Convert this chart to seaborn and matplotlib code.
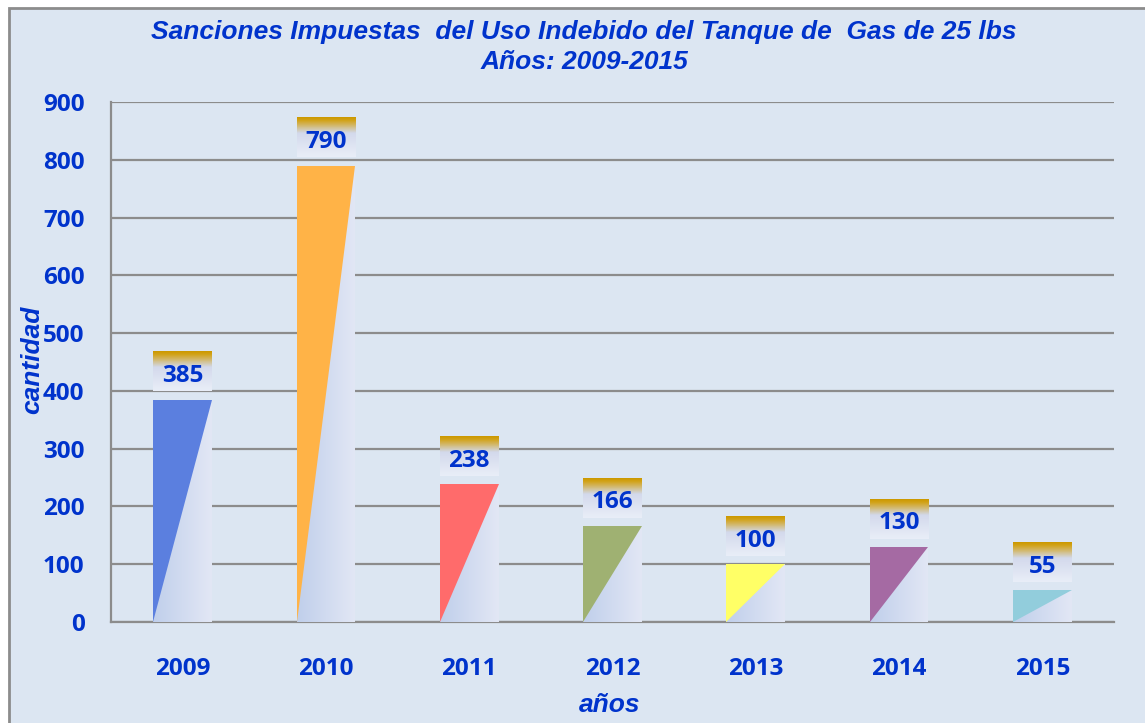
import numpy as np
import matplotlib
matplotlib.use("Agg")
import matplotlib.pyplot as plt
import seaborn as sns
from matplotlib.patches import Polygon, Rectangle
from matplotlib.colors import LinearSegmentedColormap

# data
years = ["2009", "2010", "2011", "2012", "2013", "2014", "2015"]
sanciones = [385, 790, 238, 166, 100, 130, 55]
bar_colors = ["#5b7fdf", "#ffb347", "#ff6b6b", "#9fb172", "#ffff66", "#a56aa3", "#92cddc"]
y_ticks = [0, 100, 200, 300, 400, 500, 600, 700, 800, 900]

title_txt = "Sanciones Impuestas  del Uso Indebido del Tanque de  Gas de 25 lbs\nAños: 2009-2015"
BLUE = "#0033cc"
GRID = "#8c8c8c"
BG = "#dce6f2"
NUM_FONT = ["Open Sans", "DejaVu Sans"]
ARIAL = ["Liberation Sans", "DejaVu Sans"]

sns.set_theme(style="white")
plt.rcParams["font.family"] = NUM_FONT

fig = plt.figure(figsize=(11.45, 7.23), dpi=100)
fig.patch.set_facecolor("white")
# outer chart area frame (clipped on right/bottom like the original)
fig.patches.append(Rectangle((9 / 1145, -0.05), 1.1, 1 - 8 / 723 + 0.05,
                             transform=fig.transFigure, facecolor=BG,
                             edgecolor=GRID, linewidth=2, zorder=-5))

ax = fig.add_axes([111 / 1145, 1 - 622 / 723, 1003 / 1145, 520 / 723])
ax.set_facecolor(BG)

sns.barplot(x=years, y=sanciones, hue=years, palette=bar_colors, legend=False,
            width=0.41, saturation=1, linewidth=0, ax=ax, zorder=3)

ax.set_xlim(-0.5, 6.5)
ax.set_ylim(0, 900)

# light gradient over the lower-right half of each bar + label box above it
light = LinearSegmentedColormap.from_list("light", ["#c0cfeb", "#e2e7f5"])
box_cmap = LinearSegmentedColormap.from_list(
    "box", [(0.0, "#cc9900"), (0.08, "#d2a31a"), (0.4, "#d3d9ec"), (1.0, "#e9eef8")])
grad_h = np.linspace(0, 1, 64).reshape(1, -1)
grad_v = np.linspace(0, 1, 64).reshape(-1, 1)

for p, val in zip(ax.patches, sanciones):
    x0, w, h = p.get_x(), p.get_width(), p.get_height()
    x1 = x0 + w
    tri = Polygon([(x0, 0), (x1, 0), (x1, h)], closed=True, transform=ax.transData)
    im = ax.imshow(grad_h, cmap=light, extent=(x0, x1, 0, h), aspect="auto",
                   origin="lower", zorder=4)
    im.set_clip_path(tri)
    # value box (row 0 = gold band, at the top)
    b0, b1 = val + 14, val + 83
    ax.imshow(grad_v, cmap=box_cmap, extent=(x0, x1 - w * 0.01, b0, b1), aspect="auto",
              origin="upper", zorder=4)
    ax.text(x0 + w / 2, val + 41, str(val), ha="center", va="center",
            fontsize=17.5, fontweight="bold", color=BLUE, family=NUM_FONT, zorder=5)

ax.set_xlim(-0.5, 6.5)
ax.set_ylim(0, 900)

# grid and axes
ax.set_yticks(y_ticks)
ax.yaxis.grid(True, color=GRID, linewidth=1.6, zorder=1)
ax.set_axisbelow(True)
for s in ["top", "right"]:
    ax.spines[s].set_visible(False)
for s in ["left", "bottom"]:
    ax.spines[s].set_color(GRID)
    ax.spines[s].set_linewidth(1.6)

ax.set_xticks(range(len(years)))
ax.set_xticklabels(years)
ax.set_xticks(np.arange(-0.5, 7, 1), minor=True)
ax.tick_params(axis="x", which="major", length=0, pad=25, labelsize=17.5, labelcolor=BLUE)
ax.tick_params(axis="x", which="minor", length=6.5, width=1.6, color=GRID, direction="out")
ax.tick_params(axis="y", length=6, width=1.6, color=GRID, direction="out", pad=13,
               labelsize=17.5, labelcolor=BLUE)
for lbl in ax.get_xticklabels() + ax.get_yticklabels():
    lbl.set_fontweight("bold")
    lbl.set_family(NUM_FONT)

ax.set_xlabel("años", fontsize=19, fontweight="bold", style="italic", color=BLUE,
              family=ARIAL, va="center")
ax.xaxis.set_label_coords(0.497, -0.16)
ax.set_ylabel("cantidad", fontsize=19, fontweight="bold", style="italic", color=BLUE,
              family=ARIAL, va="center")
ax.yaxis.set_label_coords(-0.079, 0.505)

fig.text(584 / 1145, 1 - 47 / 723, title_txt, ha="center", va="center",
         fontsize=19, fontweight="bold", style="italic", color=BLUE,
         family=ARIAL, linespacing=1.3)

fig.savefig("out.png", dpi=100, facecolor=fig.get_facecolor())
